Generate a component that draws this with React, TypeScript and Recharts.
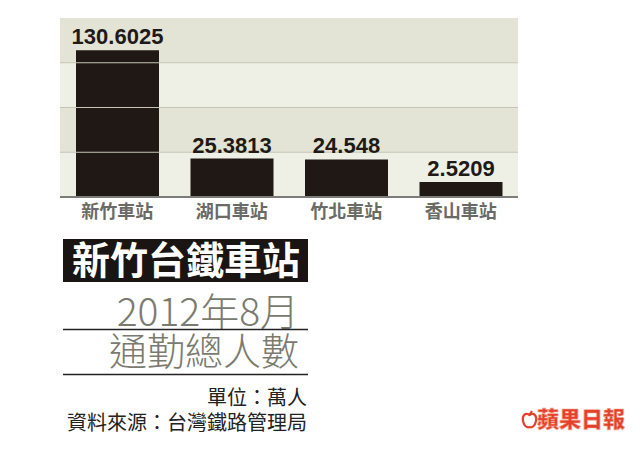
import React from "react";
import { BarChart, Bar, XAxis, YAxis, ReferenceArea, ReferenceLine, LabelList } from "recharts";

const stations = ["新竹車站", "湖口車站", "竹北車站", "香山車站"];
const commuters = [130.6025, 25.3813, 24.548, 2.5209];
const valueLabels = ["130.6025", "25.3813", "24.548", "2.5209"];
const AXIS_FLOOR = -12;
const AXIS_CEIL = 162;
const bandEdges = [-12, 31.5, 75, 118.5, 162];

const data = stations.map((name, i) => ({ name, value: commuters[i], label: valueLabels[i] }));

const CJK = '"Noto Sans CJK TC", "Noto Sans CJK SC", sans-serif';
const LATIN = '"Liberation Sans", Arial, sans-serif';

export default function App() {
  return (
    <div style={{ position: "absolute", left: 0, top: 0, width: 640, height: 455, background: "#ffffff" }}>
      <BarChart
        width={640}
        height={240}
        data={data}
        margin={{ top: 18, right: 122, left: 60, bottom: 0 }}
        style={{ position: "absolute", left: 0, top: 0 }}
      >
        <YAxis hide type="number" domain={[AXIS_FLOOR, AXIS_CEIL]} allowDataOverflow />
        {bandEdges.slice(0, -1).map((lo, i) => (
          <ReferenceArea
            key={"b" + i}
            y1={lo}
            y2={bandEdges[i + 1]}
            fill={i % 2 === 0 ? "#eff0e5" : "#e3e4d5"}
            fillOpacity={1}
            stroke="none"
            ifOverflow="visible"
          />
        ))}
        {bandEdges.slice(1, -1).map((v) => (
          <ReferenceLine key={"g" + v} y={v} stroke="#c4c5b5" strokeWidth={1} ifOverflow="visible" />
        ))}
        <XAxis
          dataKey="name"
          height={43}
          tickLine={false}
          axisLine={{ stroke: "#7c7c78", strokeWidth: 2 }}
          tick={{ fontSize: 18, fill: "#6a6a66", fontFamily: CJK, fontWeight: 700 }}
          interval={0}
        />
        <Bar
          dataKey={(d: any) => [AXIS_FLOOR, d.value]}
          fill="#1f1814"
          barSize={83}
          isAnimationActive={false}
        >
          <LabelList
            dataKey="label"
            position="top"
            offset={6}
            style={{ fontSize: 22, fontWeight: 700, fill: "#1f1a17", fontFamily: LATIN }}
          />
        </Bar>
      </BarChart>
      <svg width={640} height={455} style={{ position: "absolute", left: 0, top: 0, pointerEvents: "none" }}>
        <rect x={63} y={239} width={245} height={43} fill="#1a1512" />
        <text x={186} y={274} textAnchor="middle" fontSize={38} fontWeight={700} fill="#ffffff" fontFamily={CJK}>
          新竹台鐵車站
        </text>
        <text x={299} y={326} textAnchor="end" fontSize={39} fontWeight={300} fill="#7a7a6f" fontFamily={CJK}>
          2012年8月
        </text>
        <line x1={63} x2={308} y1={329.5} y2={329.5} stroke="#222" strokeWidth={1.5} />
        <text x={299} y={365} textAnchor="end" fontSize={38} fontWeight={300} fill="#7a7a6f" fontFamily={CJK}>
          通勤總人數
        </text>
        <line x1={63} x2={308} y1={374.5} y2={374.5} stroke="#222" strokeWidth={1.5} />
        <text x={307} y={405} textAnchor="end" fontSize={20} fill="#222" fontFamily={CJK}>
          單位：萬人
        </text>
        <text x={307} y={430} textAnchor="end" fontSize={20} fill="#222" fontFamily={CJK}>
          資料來源：台灣鐵路管理局
        </text>
        <path
          d="M529.5 415 C525 412, 522 416, 523 421 C524 426, 527 428, 529.5 427 C532 428, 535 426, 536 421 C537 416, 534 412, 529.5 415 Z M529.5 415 L532 411"
          fill="none"
          stroke="#e4412b"
          strokeWidth={2.2}
        />
        <text
          x={537}
          y={427}
          fontSize={22}
          fontWeight={900}
          fill="#e4412b"
          stroke="#f5a593"
          strokeWidth={0.6}
          fontFamily={CJK}
        >
          蘋果日報
        </text>
      </svg>
    </div>
  );
}
